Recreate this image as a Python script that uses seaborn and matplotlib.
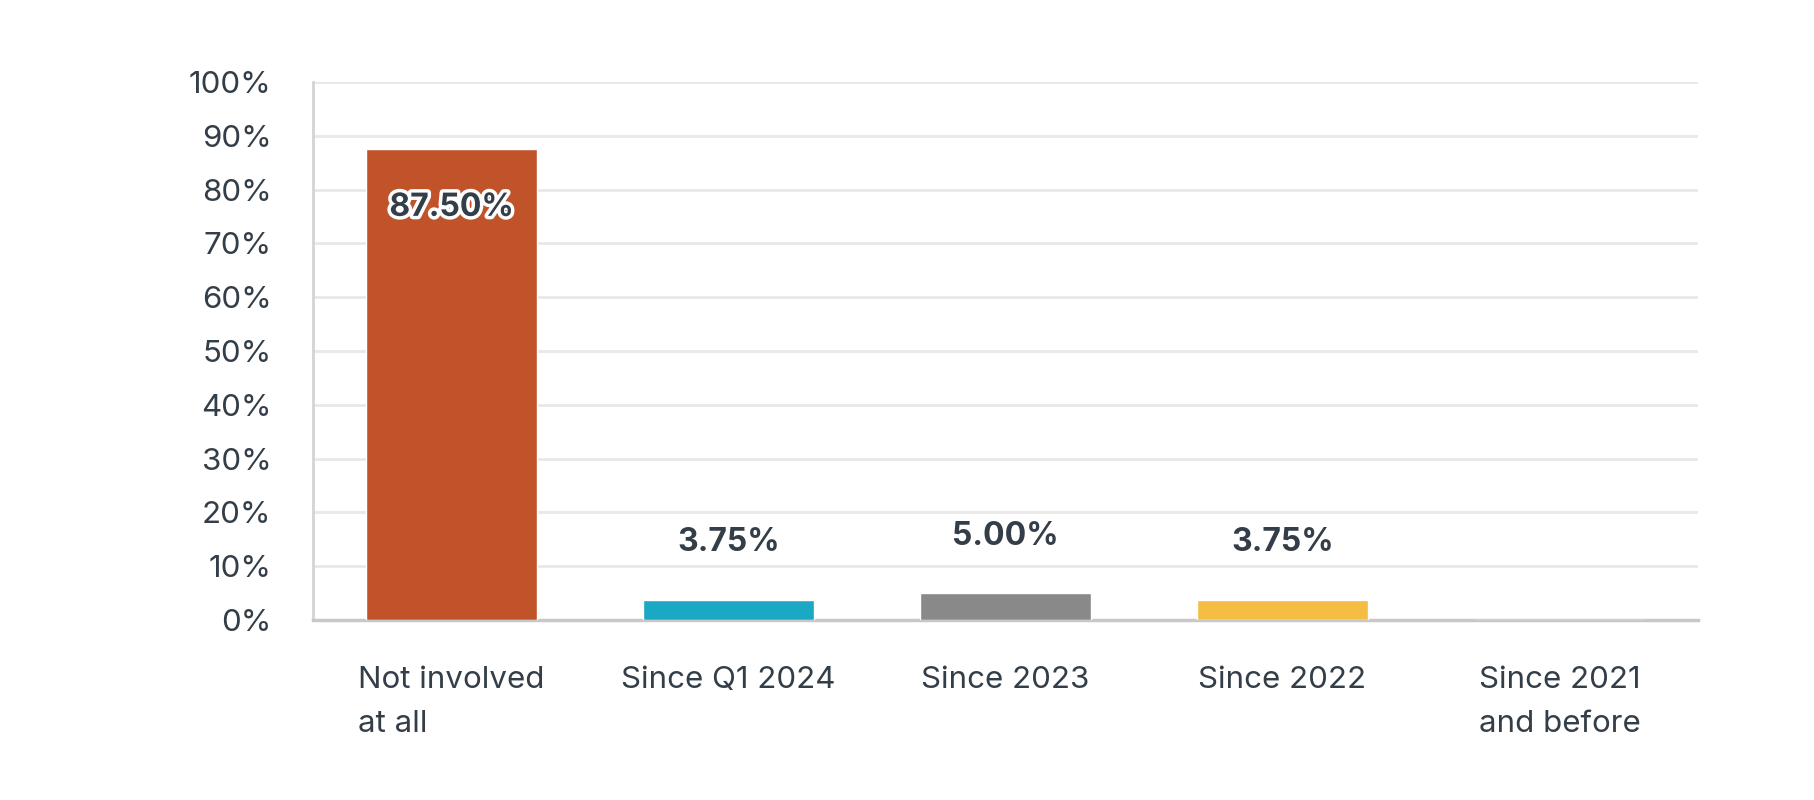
import pandas as pd
import matplotlib.pyplot as plt
import matplotlib.patheffects as pe
import seaborn as sns

categories = ["Not involved\nat all", "Since Q1 2024", "Since 2023", "Since 2022", "Since 2021\nand before"]
shares = [87.50, 3.75, 5.00, 3.75, 0.0]
bar_colors = ["#c0532a", "#1aa8c4", "#898989", "#f5bd42", "#9a9a9a"]
y_ticks = [0, 10, 20, 30, 40, 50, 60, 70, 80, 90, 100]

TEXT_COLOR = "#333e48"

sns.set_theme(style="white")
plt.rcParams["font.family"] = ["Inter", "DejaVu Sans"]

df = pd.DataFrame({"category": categories, "share": shares})

fig = plt.figure(figsize=(18.15, 8), dpi=100)
ax = fig.add_axes([0.1725, 0.225, 0.763, 0.6725])

sns.barplot(data=df, x="category", y="share", hue="category", palette=bar_colors,
            width=0.615, saturation=1, legend=False, ax=ax, zorder=3)

ax.set_ylim(0, 100)
ax.set_xlim(-0.5, len(categories) - 0.5)
ax.set_yticks(y_ticks)
ax.set_yticklabels([f"{t}%" for t in y_ticks])
ax.yaxis.grid(True, color="#e8e8e8", linewidth=2)
ax.set_axisbelow(True)
ax.set_xlabel("")
ax.set_ylabel("")

for side in ["top", "right"]:
    ax.spines[side].set_visible(False)
ax.spines["left"].set_color("#d4d4d4")
ax.spines["left"].set_linewidth(2)
ax.spines["bottom"].set_color("#c8c8c8")
ax.spines["bottom"].set_linewidth(2.5)

ax.tick_params(axis="y", length=0, pad=30, labelsize=22.5, labelcolor=TEXT_COLOR)
ax.tick_params(axis="x", length=0, pad=33, labelsize=22.5, labelcolor=TEXT_COLOR)
for lbl in ax.get_xticklabels():
    lbl.set_multialignment("left")
    lbl.set_linespacing(1.75)

# value labels
for i, v in enumerate(shares):
    if v <= 0:
        continue
    if v > 50:
        t = ax.text(i, v - 10.8, f"{v:.2f}%", ha="center", va="center", fontsize=23,
                    fontweight="bold", color=TEXT_COLOR, zorder=5)
        t.set_path_effects([pe.withStroke(linewidth=5, foreground="white")])
    else:
        ax.text(i, v + 10.6, f"{v:.2f}%", ha="center", va="center", fontsize=23,
                fontweight="bold", color=TEXT_COLOR, zorder=5)

fig.savefig("out.png", dpi=100, facecolor="white")
